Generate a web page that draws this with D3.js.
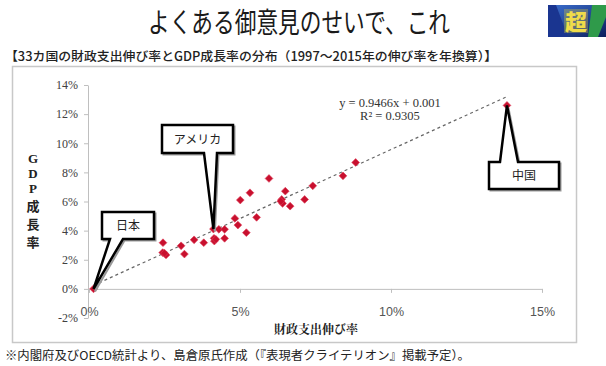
<!DOCTYPE html>
<html>
<head>
<meta charset="utf-8">
<script src="https://cdn.jsdelivr.net/npm/d3@7"></script>
<style>
  html, body { margin: 0; padding: 0; background: #fff; }
  svg { display: block; }
</style>
</head>
<body>
<div id="chart"></div>
<script>
// 財政支出伸び率 (%) と GDP成長率 (%) — 33カ国, 1997〜2015 年換算
const spendGrowth = [0.15, 2.45, 2.44, 2.55, 2.50, 3.05, 3.16, 3.48, 3.80, 4.12, 4.30, 4.49, 4.14, 4.15, 4.20, 4.49,
  4.83, 4.93, 5.21, 5.01, 5.33, 5.55, 5.96, 6.50, 6.38, 6.41, 6.35, 6.66, 7.14, 7.41, 8.41, 8.83, 13.84];
const gdpGrowth = [0.00, 3.17, 2.49, 2.33, 2.45, 2.96, 2.39, 3.37, 3.17, 4.11, 4.09, 4.09, 3.47, 3.28, 3.40, 3.47,
  4.84, 4.38, 3.86, 6.10, 6.60, 4.91, 7.58, 6.71, 6.14, 5.87, 6.02, 5.68, 6.14, 7.08, 7.76, 8.68, 12.60];
const xTicks = [0, 5, 10, 15];
const yTicks = [-2, 0, 2, 4, 6, 8, 10, 12, 14];
// 回帰式 (Excel の近似曲線)
const trendSlope = 0.9466, trendIntercept = 0.1;
const trendText = ["y = 0.9466x + 0.001", "R² = 0.9305"];
// 吹き出し: ラベル と 対象の国のインデックス
const calloutNames = ["日本", "アメリカ", "中国"];
const calloutIndex = [0, 9, 32];

const width = 606, height = 366;
const svg = d3.select("#chart").append("svg").attr("width", width).attr("height", height);

const gothic = "'Noto Sans CJK JP', 'Noto Sans', sans-serif";
const serif = "'Liberation Serif', 'DejaVu Serif', serif";

// タイトル
svg.append("text").text("よくある御意見のせいで、これ")
  .attr("x", 148).attr("y", 33)
  .attr("textLength", 302).attr("lengthAdjust", "spacingAndGlyphs")
  .attr("font-family", gothic).attr("font-size", 28).attr("fill", "#1a1a1a");

// ロゴ
const defs = svg.append("defs");
const grad = defs.append("linearGradient").attr("id", "lg").attr("x1", 0).attr("x2", 1).attr("y1", 0).attr("y2", 1);
grad.append("stop").attr("offset", 0).attr("stop-color", "#3b6fd0");
grad.append("stop").attr("offset", 1).attr("stop-color", "#0d1f5c");
const logo = svg.append("g").attr("transform", "translate(548,5)");
logo.append("rect").attr("width", 58).attr("height", 32).attr("fill", "url(#lg)");
logo.append("path").attr("d", "M0,0 L8,0 L20,32 L0,32 Z").attr("fill", "#1a3590");
logo.append("path").attr("d", "M44,0 L58,0 L58,12 L50,32 L40,32 Z").attr("fill", "#2f9a4a");
logo.append("rect").attr("x", 16).attr("y", 4).attr("width", 24).attr("height", 24).attr("fill", "#d8c640").attr("opacity", 0.35);
logo.append("text").text("超").attr("x", 28).attr("y", 25).attr("text-anchor", "middle")
  .attr("font-family", gothic).attr("font-weight", 900).attr("font-size", 22).attr("fill", "#efdc4a");

// サブタイトル
svg.append("text").text("【33カ国の財政支出伸び率とGDP成長率の分布（1997～2015年の伸び率を年換算）】")
  .attr("x", 5).attr("y", 61)
  .attr("textLength", 492).attr("lengthAdjust", "spacingAndGlyphs")
  .attr("font-family", gothic).attr("font-weight", 500).attr("font-size", 12.5).attr("fill", "#222");

// グラフ枠
svg.append("rect").attr("x", 12.5).attr("y", 66.5).attr("width", 564).attr("height", 276)
  .attr("fill", "none").attr("stroke", "#c8c8c8").attr("stroke-width", 1.5);

const x = d3.scaleLinear().domain([0, 15]).range([89, 542]);
const y = d3.scaleLinear().domain([-2, 14]).range([318, 85]);

// Y軸
const yAxis = svg.append("g").attr("transform", `translate(${x(0) - 1},0)`)
  .call(d3.axisLeft(y).tickValues(yTicks).tickFormat(d => d + "%").tickSizeInner(4).tickSizeOuter(0).tickPadding(6));
yAxis.select(".domain").attr("stroke", "#bfbfbf");
yAxis.selectAll(".tick line").attr("stroke", "#bfbfbf");
yAxis.selectAll("text").attr("font-family", serif).attr("font-size", 12).attr("fill", "#404040");

// X軸 (y = 0 の位置)
const xAxis = svg.append("g").attr("transform", `translate(0,${y(0)})`)
  .call(d3.axisBottom(x).tickValues(xTicks).tickFormat(d => d + "%").tickSizeInner(4).tickSizeOuter(0).tickPadding(14));
xAxis.select(".domain").attr("stroke", "#bfbfbf");
xAxis.selectAll(".tick line").attr("stroke", "#bfbfbf");
xAxis.selectAll("text").attr("font-family", "'Liberation Sans', Arial, sans-serif").attr("font-size", 12.5).attr("fill", "#555");

// 軸タイトル
svg.append("text").text("財政支出伸び率")
  .attr("x", 316).attr("y", 334).attr("text-anchor", "middle")
  .attr("font-family", "'Noto Serif CJK JP', " + gothic).attr("font-weight", 700).attr("font-size", 12).attr("fill", "#222");

const yTitle = ["G", "D", "P", "成", "長", "率"];
svg.append("g").selectAll("text").data(yTitle).join("text")
  .text(d => d)
  .attr("x", 33).attr("y", (d, i) => 163 + i * (i < 3 ? 15 : 18) + (i >= 3 ? -6 : 0))
  .attr("text-anchor", "middle")
  .attr("font-family", (d, i) => i < 3 ? serif : gothic)
  .attr("font-weight", 700).attr("font-size", 13).attr("fill", "#222");

// 近似直線
const x0 = spendGrowth[0], x1 = spendGrowth[spendGrowth.length - 1];
svg.append("line")
  .attr("x1", x(x0)).attr("y1", y(trendSlope * x0 + trendIntercept))
  .attr("x2", x(x1)).attr("y2", y(trendSlope * x1 + trendIntercept))
  .attr("stroke", "#666").attr("stroke-width", 1.2).attr("stroke-dasharray", "3,3");

svg.append("g").selectAll("text").data(trendText).join("text")
  .text(d => d)
  .attr("x", 390).attr("y", (d, i) => 107 + i * 13)
  .attr("text-anchor", "middle")
  .attr("font-family", serif).attr("font-size", 12.5).attr("fill", "#333");

// 散布点 (菱形)
const points = d3.range(spendGrowth.length).map(i => [spendGrowth[i], gdpGrowth[i]]);
svg.append("g").selectAll("path").data(points).join("path")
  .attr("d", d3.symbol(d3.symbolSquare, 30))
  .attr("transform", d => `translate(${x(d[0])},${y(d[1])}) rotate(45)`)
  .attr("fill", "#c8102e").attr("stroke", "#e0405a").attr("stroke-width", 0.6);

// 吹き出し
const boxes = [
  { x: 102, y: 212, w: 52, h: 27, a: 110, b: 123, side: "bottom" },
  { x: 162, y: 125, w: 71, h: 28, a: 204, b: 217, side: "bottom" },
  { x: 489, y: 162, w: 70, h: 27, a: 500, b: 518, side: "top" }
];
function calloutPath(bx, tx, ty) {
  const r = bx.x + bx.w, btm = bx.y + bx.h;
  if (bx.side === "bottom") {
    return `M${bx.x},${bx.y}H${r}V${btm}H${bx.b}L${tx},${ty}L${bx.a},${btm}H${bx.x}Z`;
  }
  return `M${bx.x},${bx.y}H${bx.a}L${tx},${ty}L${bx.b},${bx.y}H${r}V${btm}H${bx.x}Z`;
}
const callouts = svg.append("g");
calloutNames.forEach((name, k) => {
  const idx = calloutIndex[k];
  const bx = boxes[k];
  const tx = x(spendGrowth[idx]), ty = y(gdpGrowth[idx]);
  callouts.append("path").attr("d", calloutPath(bx, tx, ty + 1))
    .attr("transform", "translate(1.5,1.5)")
    .attr("fill", "none").attr("stroke", "#999").attr("stroke-width", 2).attr("stroke-linejoin", "miter");
  callouts.append("path").attr("d", calloutPath(bx, tx, ty))
    .attr("fill", "#fff").attr("stroke", "#000").attr("stroke-width", 2.5).attr("stroke-linejoin", "miter");
  callouts.append("text").text(name)
    .attr("x", bx.x + bx.w / 2).attr("y", bx.y + bx.h / 2 + 4.5).attr("text-anchor", "middle")
    .attr("font-family", gothic).attr("font-size", 12).attr("fill", "#222");
});

// 脚注
svg.append("text").text("※内閣府及びOECD統計より、島倉原氏作成（『表現者クライテリオン』掲載予定）。")
  .attr("x", 5).attr("y", 360)
  .attr("textLength", 465).attr("lengthAdjust", "spacingAndGlyphs")
  .attr("font-family", gothic).attr("font-size", 12).attr("fill", "#222");
</script>
</body>
</html>
